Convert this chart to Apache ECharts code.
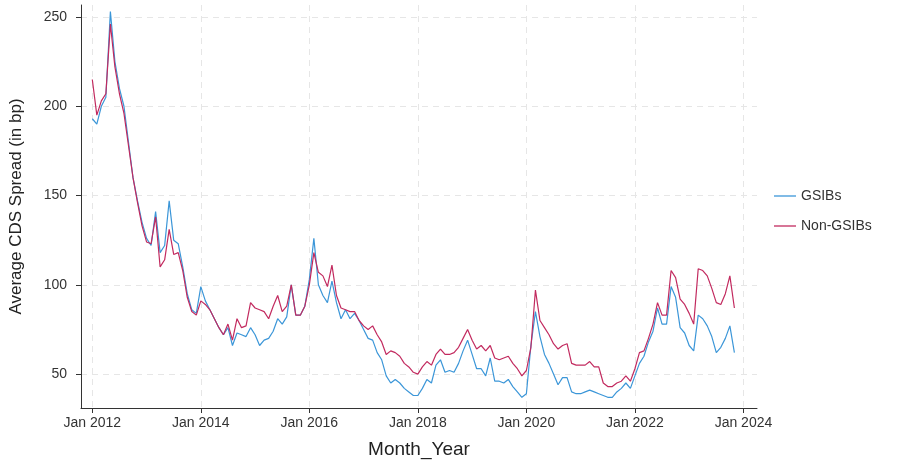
<!DOCTYPE html>
<html>
<head>
<meta charset="utf-8">
<script src="https://cdn.jsdelivr.net/npm/echarts@6/dist/echarts.min.js"></script>
<style>html,body{margin:0;padding:0;background:#fff;}#c{width:915px;height:464px;}</style>
</head>
<body>
<div id="c"></div>
<script>
// Month index 0 = Jan 2012 ... 142 = Nov 2023
const gsibs = [
  193,190,200,205,253,225,210,200,180,160,147,135,
  126,122,141,118,122,147,125,123,110,95,86,84,
  99,91,86,81,76,72,76,66,73,72,71,76,
  72,66,69,70,74,81,78,82,100,83,83,88,
  103,126,100,94,90,102,90,81,86,81,84,80,
  75,70,69,62,58,49,45,47,45,42,40,38,
  38,42,47,45,55,58,51,52,51,56,63,69,
  61,53,53,49,59,46,46,45,47,43,40,37,
  39,66,85,71,61,56,50,44,48,48,40,39,
  39,40,41,40,39,38,37,37,40,42,45,42,
  49,56,60,68,74,87,78,78,99,93,76,73,
  66,63,83,81,77,71,62,65,70,77,62
];
const nonGsibs = [
  215,195,203,207,246,222,207,196,178,160,146,133,
  124,123,138,110,114,131,117,118,108,93,85,83,
  91,89,86,81,76,72,78,69,81,76,77,90,
  87,86,85,81,88,94,85,88,100,83,83,88,
  100,118,107,105,99,111,94,87,86,85,85,80,
  77,75,77,72,68,61,63,62,60,56,54,51,
  50,54,57,55,61,64,61,61,62,65,70,75,
  69,64,66,63,66,59,58,59,60,56,53,49,
  52,65,97,80,76,72,67,64,66,67,56,55,
  55,55,57,54,54,45,43,43,45,46,49,46,
  53,62,63,70,78,90,83,83,108,104,92,89,
  84,78,109,108,105,98,90,89,95,105,87
];
const xTickMonths = [0,24,48,72,96,120,144];
const xTickLabels = ['Jan 2012','Jan 2014','Jan 2016','Jan 2018','Jan 2020','Jan 2022','Jan 2024'];
const yTicks = [50,100,150,200,250];

const toPairs = arr => arr.map((v,i)=>[i,v]);
const labelOf = {};
xTickMonths.forEach((m,k)=>{ labelOf[m] = xTickLabels[k]; });

const chart = echarts.init(document.getElementById('c'), null, {renderer:'canvas'});
const gridLine = {show:true, lineStyle:{color:'#e6e6e6', type:[6,5], width:1}};
chart.setOption({
  animation:false,
  backgroundColor:'#fff',
  textStyle:{fontFamily:'Liberation Sans, Arial, sans-serif'},
  grid:{left:80, right:158, top:5, bottom:54, containLabel:false},
  legend:{
    orient:'vertical', left:769, top:184, itemGap:16,
    itemWidth:22, itemHeight:10, icon:'path://M0,5L22,5L22,6.3L0,6.3Z',
    textStyle:{fontSize:14, color:'#333'},
    data:['GSIBs','Non-GSIBs']
  },
  xAxis:{
    type:'value', min:-2.5, max:147,
    name:'Month_Year', nameLocation:'middle', nameGap:32,
    nameTextStyle:{fontSize:19, color:'#222'},
    axisLine:{show:true, onZero:false, lineStyle:{color:'#333', width:1}},
    axisTick:{show:true, customValues:xTickMonths, length:5, lineStyle:{color:'#333'}},
    axisLabel:{customValues:xTickMonths, fontSize:14, color:'#333', margin:8,
      formatter:v=>labelOf[v]||''},
    splitLine:gridLine
  },
  yAxis:{
    type:'value', min:31, max:256.7,
    name:'Average CDS Spread (in bp)', nameLocation:'middle', nameGap:56,
    nameTextStyle:{fontSize:17, color:'#222'},
    axisLine:{show:true, onZero:false, lineStyle:{color:'#333', width:1}},
    axisTick:{show:true, customValues:yTicks, length:5, lineStyle:{color:'#333'}},
    axisLabel:{customValues:yTicks, fontSize:14, color:'#333', margin:14},
    splitLine:gridLine
  },
  series:[
    {name:'GSIBs', type:'line', data:toPairs(gsibs), showSymbol:false, symbol:'none',
     lineStyle:{color:'#3b96d8', width:1.2}, itemStyle:{color:'#3b96d8'}},
    {name:'Non-GSIBs', type:'line', data:toPairs(nonGsibs), showSymbol:false, symbol:'none',
     lineStyle:{color:'#c22a5f', width:1.2}, itemStyle:{color:'#c22a5f'}}
  ]
});
</script>
</body>
</html>
